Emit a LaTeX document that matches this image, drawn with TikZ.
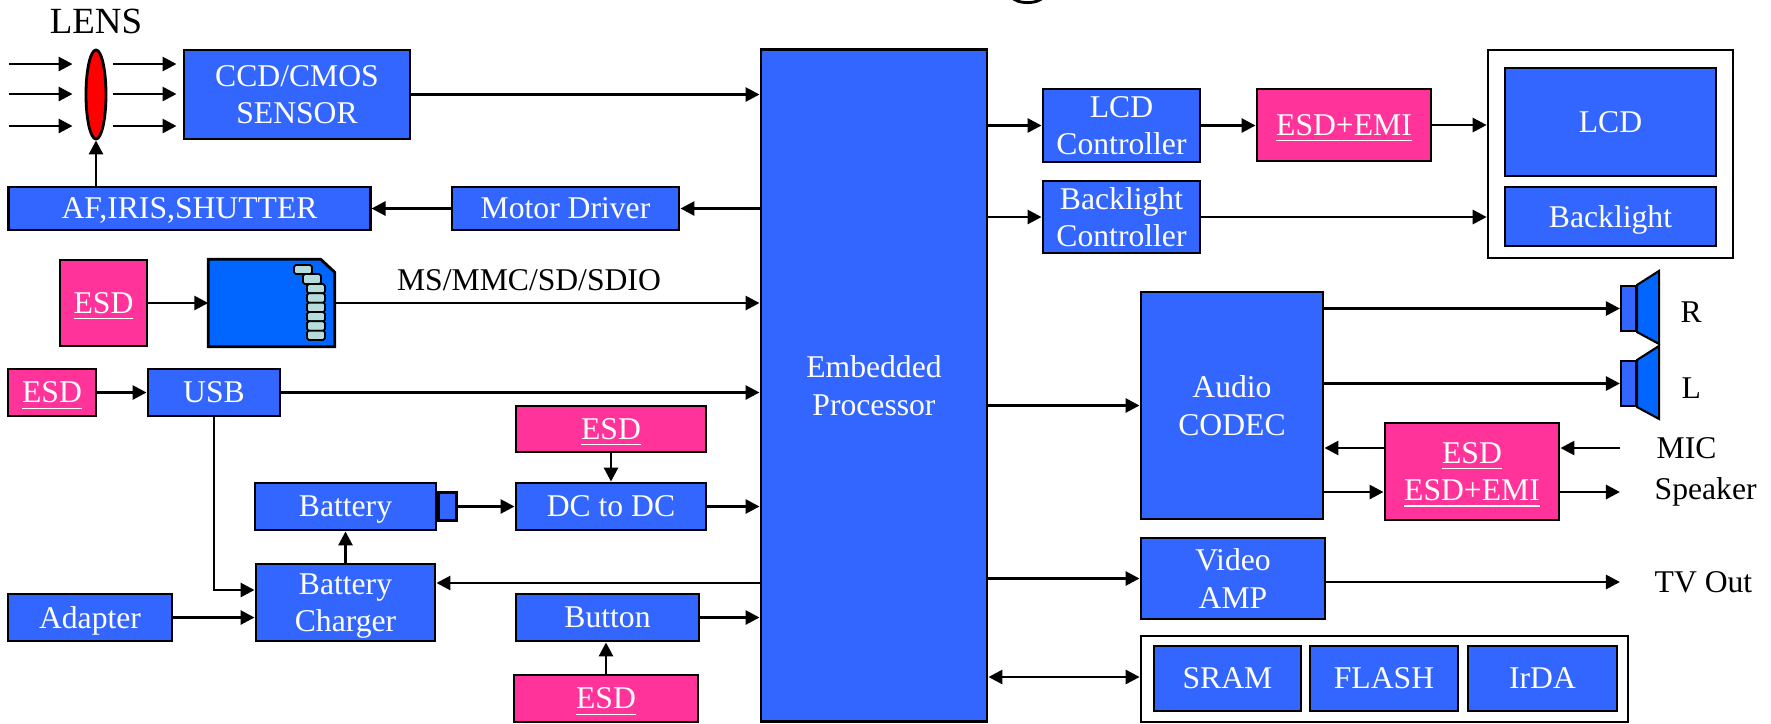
\documentclass[tikz,border=0pt]{standalone}
\usepackage{fontspec}
\setmainfont{Liberation Serif}
\usetikzlibrary{arrows.meta,shapes.geometric}
\definecolor{boxblue}{RGB}{51,102,255}
\definecolor{esdpink}{RGB}{255,51,153}
\definecolor{cardblue}{RGB}{0,102,255}
\definecolor{pinteal}{RGB}{180,220,220}
\tikzset{
	blk/.style={draw=black, line width=0.8pt, fill=boxblue, text=white, align=center, inner sep=0pt, text depth=-1.5pt},
	esd/.style={blk, fill=esdpink},
	frame/.style={draw=black, line width=0.7pt, fill=white, inner sep=0pt},
	arr/.style={line width=0.8pt, -{Triangle[length=0.14cm,width=0.14cm]}},
	darr/.style={line width=0.8pt, {Triangle[length=0.14cm,width=0.14cm]}-{Triangle[length=0.14cm,width=0.14cm]}},
	lbl/.style={text=black, inner sep=0pt},
	cone/.style={draw=black, line width=0.6pt, fill=cardblue}
}

\begin{document}
\begin{tikzpicture}[x=0.01cm, y=-0.01cm, font=\fontsize{9}{10.6}\selectfont]
			%%%%% START %%%%%
			\useasboundingbox (0,0) rectangle (1771,723);
			
			% tail of the cut-off heading
			\draw[line width=0.8pt] (1012,-3) .. controls (1016,4.5) and (1039,4.5) .. (1043,-3);
			
			% camera front end
			\node[lbl, anchor=base, font=\fontsize{10.5}{12}\selectfont] (lenslbl) at (96,33) {LENS};
			\node[draw, ellipse, fill=red, line width=0.8pt, minimum width=0.2cm, minimum height=0.89cm, inner sep=0pt] (lens) at (96,94.5) {};
			\node[blk, minimum width=2.26cm, minimum height=0.89cm] (ccd) at (297,94.5) {CCD/CMOS\\SENSOR};
			\node[blk, minimum width=3.61cm, minimum height=0.43cm] (af) at (189.5,208.5) {AF,IRIS,SHUTTER};
			\node[blk, minimum width=2.27cm, minimum height=0.43cm] (motor) at (565.5,208.5) {Motor Driver};
			
			\foreach \y in {64,94,126} {
				\coordinate (ray\y) at (9,\y);
				\draw[arr, shorten >=0.12cm] (ray\y) -- (lens.west |- 0,\y);
				\draw[arr, shorten <=0.06cm, shorten >=0.06cm] (lens.east |- 0,\y) -- (ccd.west |- 0,\y);
			}
			\draw[arr] (lens.south |- af.north) -- (lens.south);
			
			% processor
			\node[blk, minimum width=2.26cm, minimum height=6.71cm] (proc) at (874,385.5) {Embedded\\Processor};
			
			\draw[arr] (ccd.east) -- (ccd.east -| proc.west);
			\draw[arr] (motor.east -| proc.west) -- (motor.east);
			\draw[arr] (motor.west) -- (af.east);
			
			% memory card
			\node[esd, minimum width=0.87cm, minimum height=0.86cm] (esdsd) at (103.5,303) {\underline{ESD}};
			\node[minimum width=1.25cm, minimum height=0.86cm, inner sep=0pt] (card) at (271.5,303) {};
			\draw[fill=cardblue, line width=0.8pt] (card.south west) -- (card.north west) -- ([xshift=-0.14cm]card.north east) -- ([yshift=-0.13cm]card.north east) -- (card.south east) -- cycle;
			\draw[fill=pinteal, line width=0.5pt, rounded corners=0.5pt] (294,265) rectangle (312,274);
			\draw[fill=pinteal, line width=0.5pt, rounded corners=0.5pt] (303,274) rectangle (321,284);
			\foreach \k in {0,...,5}
				\draw[fill=pinteal, line width=0.5pt, rounded corners=0.5pt] (307,284+9.33*\k) rectangle (325,293.33+9.33*\k);
			\node[lbl, anchor=base] (sdlbl) at (529,290) {MS/MMC/SD/SDIO};
			
			\draw[arr] (esdsd.east) -- (card.west);
			\draw[arr] (card.east) -- (card.east -| proc.west);
			
			% usb and power
			\node[esd, minimum width=0.88cm, minimum height=0.47cm] (esdusb) at (52,392.5) {\underline{ESD}};
			\node[blk, minimum width=1.32cm, minimum height=0.47cm] (usb) at (214,392.5) {USB};
			\node[esd, minimum width=1.90cm, minimum height=0.46cm] (esddc) at (611,429) {\underline{ESD}};
			\node[blk, minimum width=1.90cm, minimum height=0.47cm] (dcdc) at (611,506.5) {DC to DC};
			\node[blk, minimum width=1.81cm, minimum height=0.47cm] (battery) at (345.5,506.5) {Battery};
			\node[blk, minimum width=0.18cm, minimum height=0.28cm, anchor=west] (term) at (battery.east) {};
			\node[blk, minimum width=1.79cm, minimum height=0.77cm] (charger) at (345.5,602.5) {Battery\\Charger};
			\node[blk, minimum width=1.64cm, minimum height=0.47cm] (adapter) at (90,617.5) {Adapter};
			\node[blk, minimum width=1.83cm, minimum height=0.47cm] (button) at (607.5,617.5) {Button};
			\node[esd, minimum width=1.84cm, minimum height=0.47cm] (esdbtn) at (606,698.5) {\underline{ESD}};
			\coordinate (usbin) at ([yshift=0.125cm]charger.west);
			\coordinate (chgin) at ([yshift=0.195cm]charger.east);
			
			\draw[arr] (esdusb.east) -- (usb.west);
			\draw[arr] (usb.east) -- (usb.east -| proc.west);
			\draw[arr] (usb.south) |- (usbin);
			\draw[arr] (adapter.east) -- (adapter.east -| charger.west);
			\draw[arr] (charger.north) -- (charger.north |- battery.south);
			\draw[arr] (term.east) -- (term.east -| dcdc.west);
			\draw[arr] (esddc.south) -- (dcdc.north);
			\draw[arr] (dcdc.east) -- (dcdc.east -| proc.west);
			\draw[arr] (proc.west |- chgin) -- (chgin);
			\draw[arr] (button.east) -- (button.east -| proc.west);
			\draw[arr] (esdbtn.north) -- (esdbtn.north |- button.south);
			
			% display
			\node[blk, minimum width=1.57cm, minimum height=0.73cm] (lcdctrl) at (1121.5,125.5) {LCD\\Controller};
			\node[esd, minimum width=1.74cm, minimum height=0.72cm] (esdemi) at (1344,125) {\underline{ESD+EMI}};
			\node[blk, minimum width=1.57cm, minimum height=0.72cm] (blctrl) at (1121.5,217) {Backlight\\Controller};
			\node[frame, minimum width=2.45cm, minimum height=2.08cm] (disp) at (1610.5,154) {};
			\node[blk, minimum width=2.11cm, minimum height=1.08cm] (lcd) at (1610.5,122) {LCD};
			\node[blk, minimum width=2.11cm, minimum height=0.59cm] (backlight) at (1610.5,216.5) {Backlight};
			
			\draw[arr] (proc.east |- lcdctrl) -- (lcdctrl.west);
			\draw[arr] (lcdctrl.east) -- (lcdctrl.east -| esdemi.west);
			\draw[arr] (esdemi.east) -- (esdemi.east -| disp.west);
			\draw[arr] (proc.east |- blctrl) -- (blctrl.west);
			\draw[arr] (blctrl.east) -- (blctrl.east -| disp.west);
			
			% audio
			\node[blk, minimum width=1.82cm, minimum height=2.27cm] (codec) at (1232,405.5) {Audio\\CODEC};
			\node[esd, minimum width=1.74cm, minimum height=0.97cm] (esdcodec) at (1472,471.5) {\underline{ESD}\\\underline{ESD+EMI}};
			\node[blk, line width=0.6pt, minimum width=0.15cm, minimum height=0.45cm] (spkR) at (1628.5,308.5) {};
			\node[blk, line width=0.6pt, minimum width=0.15cm, minimum height=0.45cm] (spkL) at (1628.5,383.5) {};
			\draw[cone] (spkR.north east) -- ++(22,-14) -- ++(0,73) -- (spkR.south east) -- cycle;
			\draw[cone] (spkL.north east) -- ++(22,-14) -- ++(0,73) -- (spkL.south east) -- cycle;
			\node[lbl, anchor=west] (rlbl) at (1680,312) {R};
			\node[lbl, anchor=west] (llbl) at (1681,388) {L};
			\node[lbl, anchor=west] (mic) at (1656,448) {MIC};
			\node[lbl, anchor=west] (spklbl) at (1654,492) {Speaker};
			\coordinate (codecin) at ([yshift=0.235cm]esdcodec.west);
			\coordinate (codecout) at ([yshift=-0.205cm]esdcodec.west);
			
			\draw[arr] (proc.east |- codec) -- (codec.west);
			\draw[arr] (codec.east |- spkR) -- (spkR.west);
			\draw[arr] (codec.east |- spkL) -- (spkL.west);
			\draw[arr] ([xshift=-0.36cm]mic.west) -- (mic -| esdcodec.east);
			\draw[arr] (codecin) -- (codecin -| codec.east);
			\draw[arr] (codecout -| codec.east) -- (codecout);
			\draw[arr] (esdcodec.east |- spklbl) -- ([xshift=-0.34cm]spklbl.west);
			
			% video and memory
			\node[blk, minimum width=1.84cm, minimum height=0.81cm] (video) at (1233,578.5) {Video\\AMP};
			\node[lbl, anchor=west] (tvout) at (1654,582) {TV Out};
			\node[frame, minimum width=4.87cm, minimum height=0.86cm] (mem) at (1384.5,679) {};
			\node[blk, minimum width=1.47cm, minimum height=0.65cm] (sram) at (1227.5,678.5) {SRAM};
			\node[blk, minimum width=1.48cm, minimum height=0.65cm] (flash) at (1384,678.5) {FLASH};
			\node[blk, minimum width=1.49cm, minimum height=0.65cm] (irda) at (1542.5,678.5) {IrDA};
			
			\draw[arr] (proc.east |- video) -- (video.west);
			\draw[arr] (video.east |- tvout) -- ([xshift=-0.34cm]tvout.west);
			\draw[darr] (proc.east |- 0,677) -- (mem.west |- 0,677);
			
			%%%%% END %%%%%
\end{tikzpicture}
\end{document}
